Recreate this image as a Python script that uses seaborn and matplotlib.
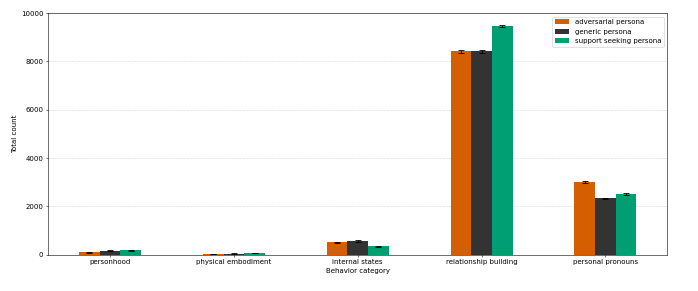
import numpy as np
import pandas as pd
import matplotlib
matplotlib.use("Agg")
import matplotlib.pyplot as plt
import seaborn as sns

categories = ["personhood", "physical embodiment", "internal states",
              "relationship building", "personal pronouns"]
personas = ["adversarial persona", "generic persona", "support seeking persona"]

adversarial = [100, 20, 505, 8425, 2990]
generic = [160, 40, 570, 8410, 2330]
support = [190, 70, 340, 9460, 2505]

adversarial_err = [15, 8, 30, 60, 40]
generic_err = [20, 10, 30, 60, 35]
support_err = [20, 12, 25, 55, 35]

colors = ["#D55E00", "#333333", "#009E73"]

rows = []
for p, vals, errs in zip(personas, [adversarial, generic, support],
                         [adversarial_err, generic_err, support_err]):
    for c, v, e in zip(categories, vals, errs):
        rows.append({"category": c, "persona": p, "count": v, "err": e})
df = pd.DataFrame(rows)

fig, ax = plt.subplots(figsize=(13.96, 5.82), dpi=50)
sns.barplot(data=df, x="category", y="count", hue="persona", order=categories,
            hue_order=personas, palette=colors, width=0.5, errorbar=None,
            saturation=1, ax=ax)

# error bars at bar centers
for i, p in enumerate(personas):
    cont = ax.containers[i]
    sub = df[df.persona == p].set_index("category").loc[categories]
    xs = [b.get_x() + b.get_width() / 2 for b in cont]
    ax.errorbar(xs, sub["count"], yerr=sub["err"], fmt="none", ecolor="black",
                capsize=4, elinewidth=1.2, capthick=1.2)

ax.set_ylim(0, 10000)
ax.set_xlim(-0.5, 4.5)
ax.set_xlabel("Behavior category")
ax.set_ylabel("Total count")
ax.yaxis.grid(True, linestyle="--", alpha=0.5)
ax.set_axisbelow(True)
ax.legend(loc="upper right")

fig.subplots_adjust(left=0.069, right=0.956, top=0.955, bottom=0.125)
fig.savefig("out.png", dpi=50)
